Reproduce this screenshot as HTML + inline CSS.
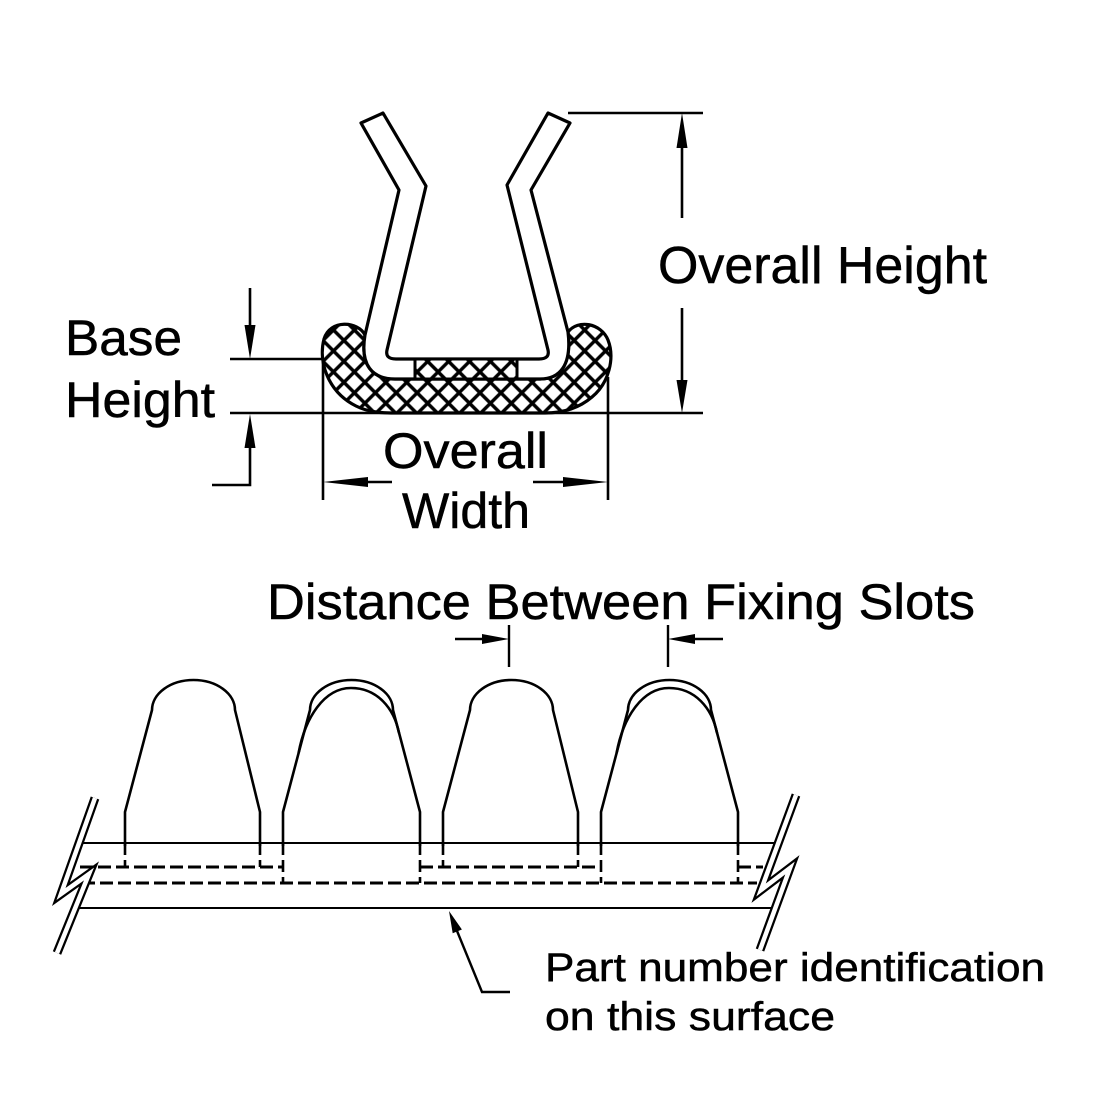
<!DOCTYPE html>
<html>
<head>
<meta charset="utf-8">
<style>
  html, body { margin: 0; padding: 0; background: #fff; }
  svg { display: block; }
  text { font-family: "Liberation Sans", Arial, sans-serif; fill: #000; stroke: #000; stroke-width: 0.5; }
</style>
</head>
<body>
<svg width="1100" height="1100" viewBox="0 0 1100 1100" xmlns="http://www.w3.org/2000/svg">
  <defs>
    <pattern id="hatch" width="14.8" height="14.8" patternUnits="userSpaceOnUse" patternTransform="translate(323,330) rotate(45)">
      <rect width="14.8" height="14.8" fill="#fff"/>
      <path d="M7.4 0V14.8M0 7.4H14.8" stroke="#000" stroke-width="3.4"/>
    </pattern>
  </defs>
  <rect width="1100" height="1100" fill="#fff"/>

  <!-- ============ TOP DIAGRAM ============ -->
  <g stroke="#000" stroke-width="2.6" fill="none">
    <line x1="568" y1="113" x2="703" y2="113"/>
    <line x1="230" y1="413" x2="703" y2="413"/>
    <line x1="230" y1="359" x2="375" y2="359"/>
    <line x1="323" y1="345" x2="323" y2="500"/>
    <line x1="608" y1="377" x2="608" y2="500"/>
  </g>

  <!-- hatched base -->
  <path d="M365,335 C358,321 330,319 324,339 C318,362 328,392 356,406 C368,412 380,413 395,413 L545,413 C562,413 578,409 592,397 C609,383 615,358 608,340 C601,323 578,319 568,332 C572,365 560,379 540,379 L395,379 C372,379 360,365 365,335 Z"
        fill="url(#hatch)" stroke="#000" stroke-width="3.2" stroke-linejoin="round"/>

  <!-- clip -->
  <path d="M361,123 L399,190 L365,335 C360,365 372,379 395,379 L540,379 C560,379 572,365 568,332 L531,190 L570,123 L548,113 L507,185 L548,350 Q550,359 539,359 L396,359 Q385,359 387,350 L426,186 L383,113 Z"
        fill="#fff" stroke="#000" stroke-width="3.2" stroke-linejoin="round"/>

  <!-- central hatched block -->
  <rect x="415" y="359" width="102" height="20" fill="url(#hatch)"/>
  <g stroke="#000" stroke-width="3">
    <line x1="415" y1="359" x2="415" y2="379"/>
    <line x1="517" y1="359" x2="517" y2="379"/>
    <line x1="396" y1="359" x2="539" y2="359"/>
    <line x1="395" y1="379" x2="540" y2="379"/>
  </g>

  <!-- Overall Height dimension -->
  <g stroke="#000" stroke-width="2.6" fill="none">
    <line x1="682" y1="146" x2="682" y2="218"/>
    <line x1="682" y1="308" x2="682" y2="382"/>
  </g>
  <polygon points="682,113 676.5,148 687.5,148" fill="#000"/>
  <polygon points="682,413 676.5,380 687.5,380" fill="#000"/>

  <!-- Base Height dimension -->
  <g stroke="#000" stroke-width="2.6" fill="none">
    <line x1="250" y1="288" x2="250" y2="327"/>
    <polyline points="212,485 250,485 250,446"/>
  </g>
  <polygon points="250,359 244.5,325 255.5,325" fill="#000"/>
  <polygon points="250,414 244.5,448 255.5,448" fill="#000"/>

  <!-- Overall Width dimension -->
  <g stroke="#000" stroke-width="2.6" fill="none">
    <line x1="366" y1="482" x2="392" y2="482"/>
    <line x1="533" y1="482" x2="565" y2="482"/>
  </g>
  <polygon points="323,482 368,477 368,487" fill="#000"/>
  <polygon points="608,482 563,477 563,487" fill="#000"/>

  <!-- top labels -->
  <text x="658" y="283" font-size="52" textLength="329" lengthAdjust="spacingAndGlyphs">Overall Height</text>
  <text x="65" y="355" font-size="50" textLength="117" lengthAdjust="spacingAndGlyphs">Base</text>
  <text x="65" y="417" font-size="50" textLength="150" lengthAdjust="spacingAndGlyphs">Height</text>
  <text x="383" y="468" font-size="50" textLength="165" lengthAdjust="spacingAndGlyphs">Overall</text>
  <text x="402" y="528" font-size="50" textLength="128" lengthAdjust="spacingAndGlyphs">Width</text>

  <!-- ============ BOTTOM DIAGRAM ============ -->
  <text x="267" y="619" font-size="50" textLength="708" lengthAdjust="spacingAndGlyphs">Distance Between Fixing Slots</text>

  <g stroke="#000" stroke-width="2.4" fill="none">
    <line x1="509" y1="625" x2="509" y2="667"/>
    <line x1="668" y1="625" x2="668" y2="667"/>
    <line x1="455" y1="639" x2="484" y2="639"/>
    <line x1="723" y1="639" x2="693" y2="639"/>
  </g>
  <polygon points="509,639 482,634 482,644" fill="#000"/>
  <polygon points="668,639 695,634 695,644" fill="#000"/>

  <!-- solid strip lines -->
  <g stroke="#000" stroke-width="2" fill="none">
    <line x1="83" y1="843" x2="778" y2="843"/>
    <line x1="78" y1="908" x2="772" y2="908"/>
  </g>

  <!-- dashed hidden lines -->
  <g stroke="#000" stroke-width="3" fill="none" stroke-dasharray="13 5">
    <line x1="80" y1="867" x2="283" y2="867"/>
    <line x1="420" y1="867" x2="601" y2="867"/>
    <line x1="738" y1="867" x2="763" y2="867"/>
    <line x1="82" y1="883" x2="757" y2="883"/>
  </g>
  <g stroke="#000" stroke-width="2.6" fill="none" stroke-dasharray="12 5">
    <line x1="125" y1="843" x2="125" y2="867"/>
    <line x1="260" y1="843" x2="260" y2="867"/>
    <line x1="443" y1="843" x2="443" y2="867"/>
    <line x1="578" y1="843" x2="578" y2="867"/>
    <line x1="283" y1="843" x2="283" y2="883"/>
    <line x1="420" y1="843" x2="420" y2="883"/>
    <line x1="601" y1="843" x2="601" y2="883"/>
    <line x1="738" y1="843" x2="738" y2="883"/>
  </g>

  <!-- teeth -->
  <g stroke="#000" stroke-width="2.6" fill="none" stroke-linejoin="round">
    <path d="M125,846 V812 L152,710 A41.5 30 0 0 1 235,710 L260,812 V846"/>
    <path d="M283,846 V812 L310,710 A41.5 30 0 0 1 393,710 L420,812 V846"/>
    <path d="M298.6,753 C305,718 324,688 351,688 C377,688 394,708 399,733"/>
    <path d="M443,846 V812 L470,710 A41.5 30 0 0 1 553,710 L578,812 V846"/>
    <path d="M601,846 V812 L628,710 A41.5 30 0 0 1 711,710 L738,812 V846"/>
    <path d="M616.6,753 C623,718 642,688 669,688 C695,688 712,708 717,733"/>
  </g>

  <!-- break symbols -->
  <g fill="none" stroke-linejoin="miter" stroke-miterlimit="10">
    <polyline points="95,798 61,894 89,874 57,953" stroke="#000" stroke-width="9"/>
    <polyline points="95,798 61,894 89,874 57,953" stroke="#fff" stroke-width="4.5"/>
    <polyline points="796,795 761,890 790,868 760,950" stroke="#000" stroke-width="9"/>
    <polyline points="796,795 761,890 790,868 760,950" stroke="#fff" stroke-width="4.5"/>
  </g>

  <!-- part number leader -->
  <polyline points="510,992 482,992 455,926" fill="none" stroke="#000" stroke-width="2.4"/>
  <polygon points="449,911 461.9,929.5 452.7,933.3" fill="#000"/>

  <text x="545" y="981" font-size="40" textLength="500" lengthAdjust="spacingAndGlyphs">Part number identification</text>
  <text x="545" y="1030" font-size="40" textLength="290" lengthAdjust="spacingAndGlyphs">on this surface</text>
</svg>
</body>
</html>
